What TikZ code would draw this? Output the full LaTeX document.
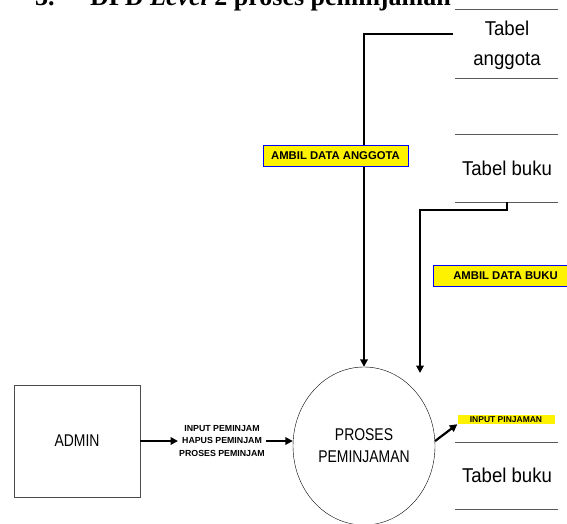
\documentclass[tikz,border=0pt]{standalone}
\usepackage{fontspec}
\setmainfont{Liberation Sans}
\newfontfamily\judulfont{Liberation Serif}
\newfontfamily\sempitfont[FakeStretch=0.82]{Liberation Sans}
\newfontfamily\tabelfont[FakeStretch=0.93]{Liberation Sans}
\usetikzlibrary{arrows.meta,shapes.geometric}

\begin{document}
\begin{tikzpicture}[x=1pt, y=-1pt,
  flow/.style={black, line width=2.2pt, -{Triangle[length=7.5pt,width=7.5pt]}},
  garistabel/.style={gray!70!black, line width=0.9pt},
  tabel/.style={font=\tabelfont\fontsize{20}{30}\selectfont, align=center, inner sep=0pt},
  ambil/.style={draw=blue, line width=0.8pt, fill=yellow, inner sep=0pt,
    minimum width=145pt, minimum height=21pt, font=\bfseries\fontsize{11.3}{13}\selectfont},
  judul/.style={anchor=base west, inner sep=0pt, font=\judulfont\bfseries\fontsize{26}{30}\selectfont}]
  \useasboundingbox (0,0) rectangle (567,524);
  \node[judul] (nomor) at (35,6) {3.};
  \node[judul] (judulteks) at (90,6) {DFD \textit{Level} 2 proses peminjaman};
  \foreach \y in {9,78,134,202,442,509}
    \draw[garistabel] (455,\y) -- (558,\y);
  \node[tabel] (tanggota) at (507,45) {Tabel\\anggota};
  \node[tabel] (tbuku) at (507,168) {Tabel buku};
  \node[tabel] (tbukudua) at (507,475) {Tabel buku};
  \node[draw=gray!60!black, minimum width=126pt, minimum height=112pt,
    font=\sempitfont\fontsize{17}{20}\selectfont] (admin) at (77,441) {ADMIN};
  \node[ellipse, draw, thin, minimum width=142pt, minimum height=158pt, align=center,
    font=\sempitfont\fontsize{17}{22}\selectfont] (proses) at (364,446) {PROSES\\PEMINJAMAN};
  \coordinate (ujunganggota) at (453,34);
  \coordinate (ujungbuku) at (507,202);
  \coordinate (masukbuku) at (420,373);
  \draw[flow] (ujunganggota) -| (proses.north);
  \draw[flow] (ujungbuku) -- ++(0,8) -| (masukbuku);
  \node[ambil] (ambilanggota) at (335.5,155.5) {AMBIL DATA ANGGOTA};
  \node[ambil] (ambilbuku) at (505.5,276) {AMBIL DATA BUKU};
  \node[font=\bfseries\fontsize{8.8}{12.5}\selectfont, align=center, inner sep=1pt] (lblinput) at (222,441)
    {INPUT PEMINJAM\\HAPUS PEMINJAM\\PROSES PEMINJAM};
  \draw[flow] (admin.east) -- (lblinput.west);
  \draw[flow] (lblinput.east) -- (lblinput.east -| proses.west);
  \node[fill=yellow, minimum width=97pt, minimum height=9pt, inner sep=0pt,
    font=\bfseries\fontsize{8.5}{9}\selectfont] (lblpinjam) at (506,419.5) {INPUT PINJAMAN};
  \draw[flow] (proses.4) -- (lblpinjam.south west);
\end{tikzpicture}
\end{document}
